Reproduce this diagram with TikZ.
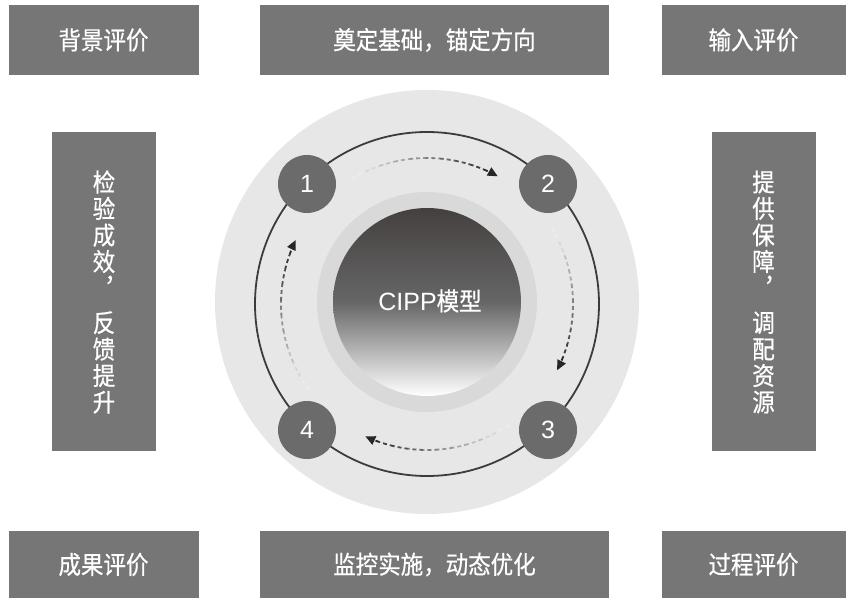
\documentclass[tikz,border=0pt]{standalone}
\usepackage{fontspec}
\setmainfont{Liberation Sans}
\newfontfamily\cjk[FakeStretch=0.9,FakeBold=0.6]{Noto Sans CJK SC}
\usetikzlibrary{arrows.meta}
\definecolor{boxgray}{HTML}{767676}
\definecolor{outerbg}{HTML}{E7E7E7}
\definecolor{ringbg}{HTML}{D9D9D9}
\definecolor{numgray}{HTML}{6B6B6B}
\definecolor{ringline}{HTML}{3C3C3C}
\definecolor{darktop}{HTML}{454040}
\definecolor{arrowdark}{HTML}{222222}
\tikzset{
  labelbox/.style={fill=boxgray, draw=none, text=white, inner sep=0pt,
    font=\cjk\fontsize{25}{26.5}\selectfont},
  vbox/.style={labelbox, minimum width=104pt, minimum height=319pt, align=center},
  numcirc/.style={circle, fill=numgray, minimum size=58pt, inner sep=0pt,
    text=white, font=\fontsize{25}{28}\selectfont},
  fadeseg/.style={line width=1.8pt, dash pattern=on 4pt off 3pt},
}
\newcommand{\fadearc}[2]{%
  \foreach \i in {0,...,9}{%
    \pgfmathsetmacro{\aa}{#1+(#2-#1)*\i/10}%
    \pgfmathsetmacro{\bb}{#1+(#2-#1)*(\i+1)/10}%
    \pgfmathsetmacro{\pp}{8+10*\i}%
    \ifnum\i=9
      \draw[fadeseg, color=arrowdark!\pp!white, -{Triangle[length=10pt,width=9pt]}]
        ([shift={(\aa:146)}]C) arc[start angle=\aa, end angle=\bb, radius=146];
    \else
      \draw[fadeseg, color=arrowdark!\pp!white]
        ([shift={(\aa:146)}]C) arc[start angle=\aa, end angle=\bb, radius=146];
    \fi
  }%
}
\begin{document}
\begin{tikzpicture}[x=1pt,y=1pt]
\useasboundingbox (0,0) rectangle (852,603);
\fill[white] (0,0) rectangle (852,603);
% top boxes
\node[labelbox, minimum width=190pt, minimum height=70pt] (bg) at (103.5,563) {背景评价};
\node[labelbox, minimum width=349pt, minimum height=70pt] (top) at (434.5,563) {奠定基础，锚定方向};
\node[labelbox, minimum width=184pt, minimum height=70pt] (in) at (753.5,563) {输入评价};
% bottom boxes
\node[labelbox, minimum width=190pt, minimum height=67pt] (res) at (103.5,38.5) {成果评价};
\node[labelbox, minimum width=349pt, minimum height=67pt] (bot) at (434.5,38.5) {监控实施，动态优化};
\node[labelbox, minimum width=184pt, minimum height=67pt] (proc) at (753.5,38.5) {过程评价};
% vertical boxes
\node[vbox] (left) at (104,311) {检\\验\\成\\效\\︐\\[8pt]反\\馈\\提\\升};
\node[vbox] (right) at (763.5,311) {提\\供\\保\\障\\︐\\[8pt]调\\配\\资\\源};
% circles
\coordinate (C) at (427,299);
\fill[outerbg] (427,301) circle[radius=212];
\fill[ringbg] (427,301) circle[radius=110];
\shade[top color=darktop, bottom color=white, middle color=gray!80!black] (427,301) circle[radius=94];
\node[text=white, font=\fontsize{25}{28}\selectfont] (cipp) at (430,302) {CIPP{\cjk 模型}};
\draw[ringline, line width=1.8pt] (C) circle[radius=172];
% dashed fading arrows
\fadearc{121}{61}
\fadearc{31}{-27}
\fadearc{-56}{-115}
\fadearc{216}{154}
% number circles
\node[numcirc] (n1) at (307,419) {1};
\node[numcirc] (n2) at (548,419) {2};
\node[numcirc] (n3) at (548,173) {3};
\node[numcirc] (n4) at (307,173) {4};
\end{tikzpicture}
\end{document}
